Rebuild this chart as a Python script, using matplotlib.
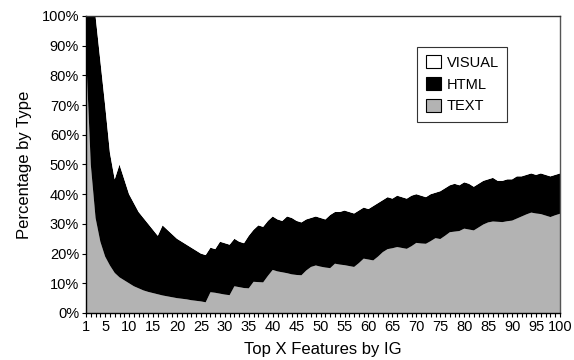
import numpy as np
import matplotlib.pyplot as plt
from matplotlib.ticker import MultipleLocator, FixedLocator, FuncFormatter

plt.rcParams['font.family'] = ['Liberation Sans', 'DejaVu Sans']

# top X features, 1..100
features = list(range(1, 101))

# percentage of TEXT features among the top X
text_pct = [88, 50, 32, 24, 19, 16, 13.5, 12, 11, 10,
            9, 8.3, 7.6, 7.1, 6.7, 6.3, 5.9, 5.6, 5.3, 5,
            4.8, 4.6, 4.3, 4.1, 3.9, 3.6, 7, 6.8, 6.5, 6.2,
            6, 9, 8.7, 8.4, 8.3, 10.5, 10.4, 10.3, 12.5, 14.5,
            14, 13.7, 13.4, 13, 12.8, 12.7, 14.3, 15.5, 16, 15.6,
            15.3, 15.1, 16.6, 16.3, 16.1, 15.8, 15.5, 16.8, 18.3, 18,
            17.7, 19, 20.5, 21.5, 21.8, 22.2, 21.9, 21.6, 22.5, 23.6,
            23.4, 23.3, 24.2, 25.2, 24.9, 26, 27.2, 27.4, 27.6, 28.4,
            28.1, 27.8, 28.8, 29.8, 30.5, 30.8, 30.7, 30.6, 30.9, 31.1,
            31.8, 32.5, 33.2, 33.8, 33.5, 33.3, 32.8, 32.3, 32.9, 33.4]

# percentage of HTML features among the top X
html_pct = [12, 50, 68, 61, 51, 38, 31.5, 38, 34, 30,
            28, 25.7, 24.4, 22.9, 21.3, 19.7, 23.6, 22.4, 21.2, 20,
            19.2, 18.4, 17.7, 16.9, 16.1, 15.9, 15, 14.7, 17.5, 17.3,
            17, 16, 15.3, 15.1, 17.7, 17.5, 19.1, 18.7, 18.5, 18,
            17.5, 17.3, 19.1, 19, 18.2, 17.8, 17.2, 16.5, 16.5, 16.4,
            16.2, 17.9, 17.4, 17.7, 18.4, 18.2, 18, 17.7, 17.2, 17,
            18.3, 18, 17.5, 17.5, 16.7, 17.3, 17.1, 16.9, 17, 16.4,
            16.1, 15.7, 15.8, 15.3, 16.1, 16, 15.8, 16.1, 15.4, 15.6,
            15.4, 14.7, 14.7, 14.7, 14.5, 14.7, 13.8, 13.9, 14.1, 13.9,
            14.2, 13.5, 13.3, 13.2, 13, 13.7, 13.7, 13.7, 13.6, 13.6]

# the rest is VISUAL
visual_pct = [100 - t - h for t, h in zip(text_pct, html_pct)]

fig = plt.figure(figsize=(5.74, 3.6), dpi=100)
ax = fig.add_axes([0.1498, 0.1306, 0.8258, 0.825])

polys = ax.stackplot(features, text_pct, html_pct, visual_pct,
                     colors=['#b3b3b3', '#000000', '#ffffff'],
                     labels=['TEXT', 'HTML', 'VISUAL'], linewidth=0)

ax.set_xlim(1, 100)
ax.set_ylim(0, 100)

ax.xaxis.set_major_locator(FixedLocator([1] + list(range(5, 101, 5))))
ax.xaxis.set_minor_locator(MultipleLocator(1))
ax.yaxis.set_major_locator(MultipleLocator(10))
ax.yaxis.set_major_formatter(FuncFormatter(lambda v, p: '%d%%' % round(v)))
ax.tick_params(axis='both', which='major', direction='out', length=3,
               width=0.8, labelsize=10.5, pad=2)
ax.tick_params(axis='x', which='minor', direction='out', length=3, width=0.8)

for s in ax.spines.values():
    s.set_linewidth(1.0)
    s.set_color('#000000')
ax.spines['right'].set_color('#555555')
ax.spines['top'].set_color('#333333')

ax.set_xlabel('Top X Features by IG', fontsize=12, labelpad=6)
ax.set_ylabel('Percentage by Type', fontsize=12, labelpad=7)

handles = [polys[2], polys[1], polys[0]]
leg = ax.legend(handles, ['VISUAL', 'HTML', 'TEXT'], loc='upper left',
                bbox_to_anchor=(0.699, 0.897), fontsize=10.5, fancybox=False,
                frameon=True, edgecolor='#333333', framealpha=1,
                handlelength=1.0, handleheight=1.0, handletextpad=0.4,
                borderpad=0.6, labelspacing=0.5, borderaxespad=0)
leg.get_frame().set_linewidth(0.8)
for lh in leg.legend_handles:
    lh.set_edgecolor('#000000')
    lh.set_linewidth(0.8)

fig.savefig('out.png', dpi=100)
